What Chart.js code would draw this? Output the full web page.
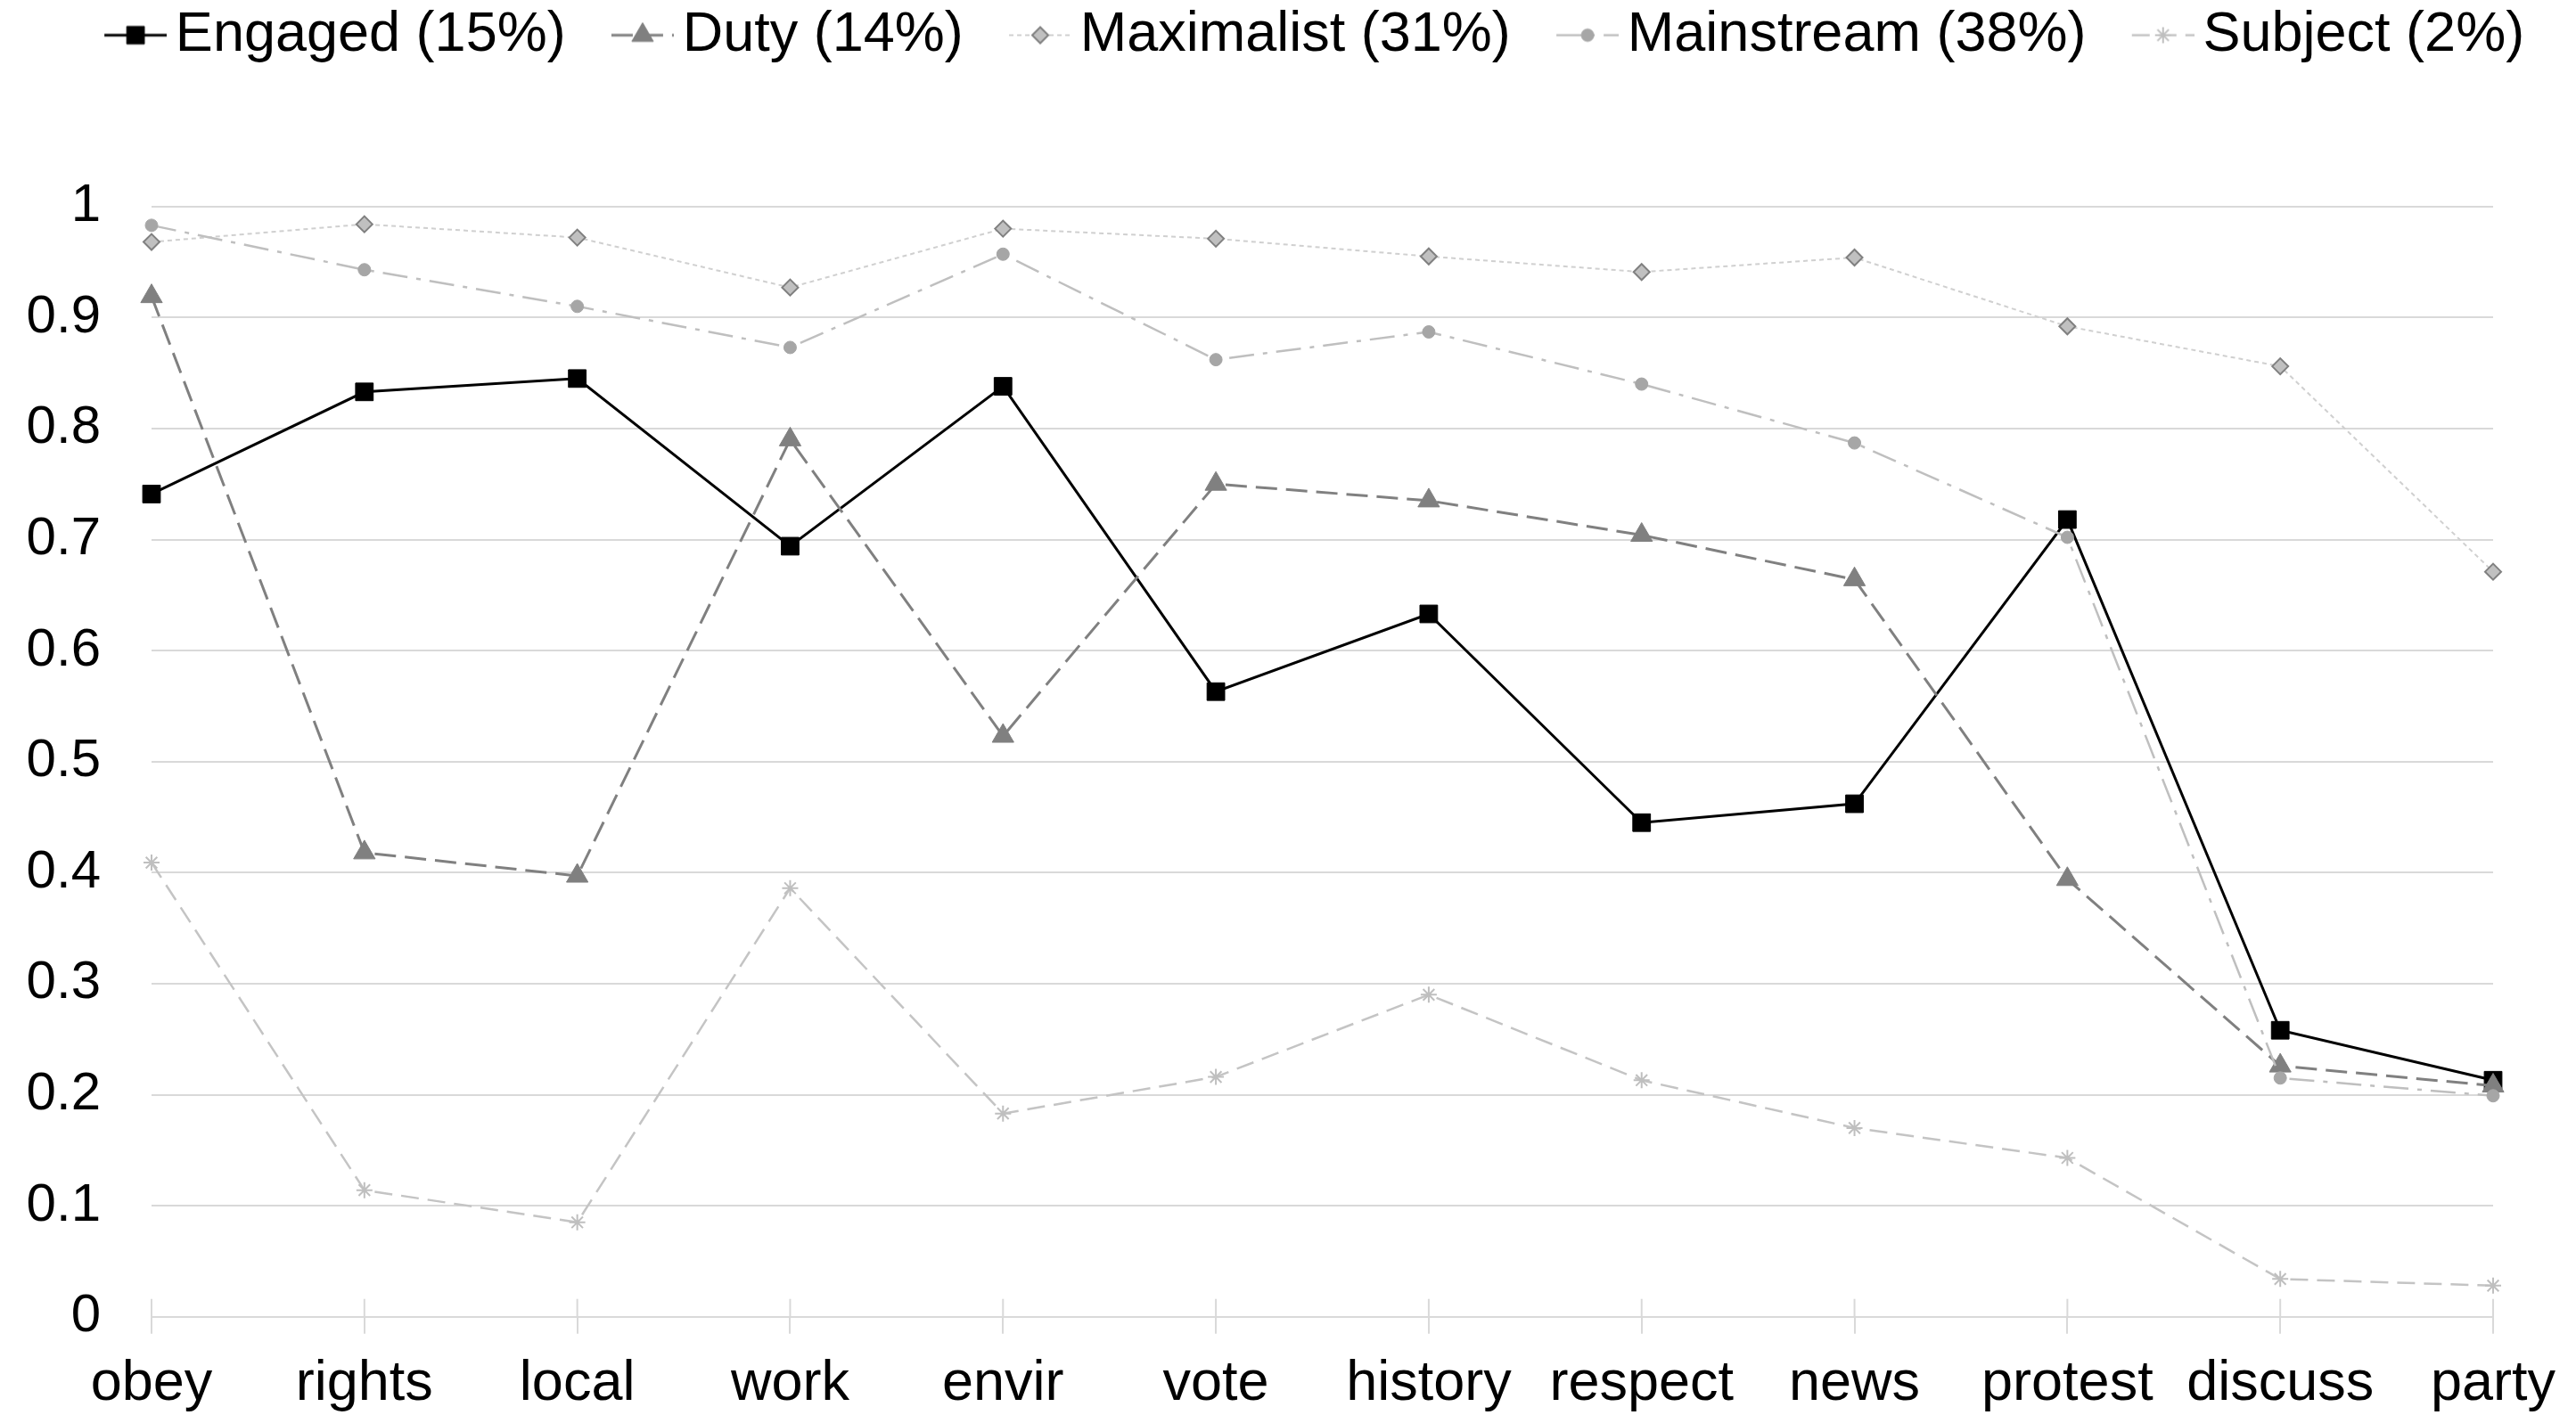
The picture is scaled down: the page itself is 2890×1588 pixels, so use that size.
<!DOCTYPE html>
<html>
<head>
<meta charset="utf-8">
<title>Civic norms by citizen type</title>
<script src="https://cdn.jsdelivr.net/npm/chart.js@4/dist/chart.umd.min.js"></script>
<style>
  html, body { margin: 0; padding: 0; background: #ffffff; }
  #wrap { width: 2890px; height: 1588px; }
  canvas { display: block; }
</style>
</head>
<body>
<div id="wrap"><canvas id="chart" width="2890" height="1588"></canvas></div>
<script>
// Items on the horizontal axis
const categories = ['obey', 'rights', 'local', 'work', 'envir', 'vote', 'history', 'respect', 'news', 'protest', 'discuss', 'party'];

// Share of each citizen type endorsing each norm
const engaged    = [0.741, 0.833, 0.845, 0.694, 0.838, 0.563, 0.633, 0.445, 0.462, 0.718, 0.258, 0.213];
const duty       = [0.919, 0.418, 0.397, 0.790, 0.523, 0.750, 0.735, 0.704, 0.664, 0.394, 0.226, 0.208];
const maximalist = [0.968, 0.984, 0.972, 0.927, 0.980, 0.971, 0.955, 0.941, 0.954, 0.892, 0.856, 0.671];
const mainstream = [0.983, 0.943, 0.910, 0.873, 0.957, 0.862, 0.887, 0.840, 0.787, 0.702, 0.215, 0.199];
const subject    = [0.409, 0.114, 0.085, 0.386, 0.183, 0.216, 0.290, 0.213, 0.170, 0.143, 0.034, 0.028];

const seriesLabels = ['Engaged (15%)', 'Duty (14%)', 'Maximalist (31%)', 'Mainstream (38%)', 'Subject (2%)'];
const yTickLabels = ['0', '0.1', '0.2', '0.3', '0.4', '0.5', '0.6', '0.7', '0.8', '0.9', '1'];

const GRID = '#d9d9d9';
Chart.defaults.font.family = '"Liberation Sans", Arial, Helvetica, sans-serif';
Chart.defaults.color = '#000000';

// Legend swatch: a short line in the series' dash style with its marker in the middle
function legendSwatch(ds) {
  const c = document.createElement('canvas');
  c.width = 133; c.height = 44;
  const g = c.getContext('2d');
  const cy = c.height / 2;
  g.strokeStyle = ds.borderColor;
  g.lineWidth = ds.borderWidth;
  g.setLineDash(ds.borderDash || []);
  g.beginPath();
  g.moveTo(63, cy);
  g.lineTo(133, cy);
  g.stroke();
  g.setLineDash([]);
  g.fillStyle = ds.pointBackgroundColor;
  g.strokeStyle = ds.pointBorderColor;
  g.lineWidth = ds.pointBorderWidth;
  const opts = { pointStyle: ds.pointStyle, radius: ds.pointRadius, rotation: 0, borderWidth: ds.pointBorderWidth };
  if (Chart.helpers && Chart.helpers.drawPoint) {
    Chart.helpers.drawPoint(g, opts, 98, cy);
  }
  return c;
}

// Tick marks that cross the category axis (upper half; lower half is drawn by the scale)
const crossTicks = {
  id: 'crossTicks',
  beforeDatasetsDraw(chart) {
    const xs = chart.scales.x;
    const { ctx, chartArea } = chart;
    ctx.save();
    ctx.strokeStyle = GRID;
    ctx.lineWidth = 2;
    xs.ticks.forEach((t, i) => {
      const px = xs.getPixelForTick(i);
      ctx.beginPath();
      ctx.moveTo(px, chartArea.bottom - 20);
      ctx.lineTo(px, chartArea.bottom);
      ctx.stroke();
    });
    ctx.restore();
  }
};

const datasets = [
  {
    label: seriesLabels[0], data: engaged, order: 4,
    borderColor: '#000000', borderWidth: 3, borderDash: [],
    pointStyle: 'rect', pointRadius: 14, pointBackgroundColor: '#000000',
    pointBorderColor: '#000000', pointBorderWidth: 1
  },
  {
    label: seriesLabels[1], data: duty, order: 3,
    borderColor: '#808080', borderWidth: 3, borderDash: [24, 10],
    pointStyle: 'triangle', pointRadius: 14, pointBackgroundColor: '#808080',
    pointBorderColor: '#808080', pointBorderWidth: 1
  },
  {
    label: seriesLabels[2], data: maximalist, order: 2,
    borderColor: '#d0d0d0', borderWidth: 2, borderDash: [5, 4],
    pointStyle: 'rectRot', pointRadius: 9, pointBackgroundColor: '#c0c0c0',
    pointBorderColor: '#808080', pointBorderWidth: 2
  },
  {
    label: seriesLabels[3], data: mainstream, order: 1,
    borderColor: '#bfbfbf', borderWidth: 2.5, borderDash: [28, 10, 5, 10],
    pointStyle: 'circle', pointRadius: 7, pointBackgroundColor: '#a6a6a6',
    pointBorderColor: '#a6a6a6', pointBorderWidth: 1
  },
  {
    label: seriesLabels[4], data: subject, order: 0,
    borderColor: '#c4c4c4', borderWidth: 2.5, borderDash: [20, 10],
    pointStyle: 'star', pointRadius: 9, pointBackgroundColor: '#bfbfbf',
    pointBorderColor: '#bfbfbf', pointBorderWidth: 2
  }
].map(d => Object.assign({ fill: false, tension: 0, clip: false, backgroundColor: d.pointBackgroundColor }, d));

new Chart(document.getElementById('chart'), {
  type: 'line',
  data: { labels: categories, datasets },
  options: {
    responsive: false,
    animation: false,
    devicePixelRatio: 1,
    layout: { padding: { top: -2, left: 18, right: 0, bottom: 0 } },
    plugins: {
      tooltip: { enabled: false },
      // empty title used as a spacer between the legend row and the plot
      title: {
        display: true,
        text: '',
        weight: 500,
        font: { size: 10, lineHeight: 1.2 },
        padding: { top: 0, bottom: 138.7 }
      },
      legend: {
        position: 'top',
        align: 'center',
        labels: {
          font: { size: 63 },
          color: '#000000',
          usePointStyle: true,
          pointStyleWidth: 89.5,
          boxHeight: 63,
          padding: 10,
          sort: (a, b) => a.datasetIndex - b.datasetIndex,
          generateLabels(chart) {
            const items = Chart.defaults.plugins.legend.labels.generateLabels(chart);
            items.forEach(it => { it.pointStyle = legendSwatch(chart.data.datasets[it.datasetIndex]); });
            return items;
          }
        }
      }
    },
    scales: {
      x: {
        offset: false,
        grid: { display: true, drawOnChartArea: false, drawTicks: true, tickLength: 19, color: GRID, lineWidth: 2 },
        border: { display: true, color: GRID, width: 2 },
        ticks: { font: { size: 63, lineHeight: 1.2 }, color: '#000000', padding: 19, maxRotation: 0, autoSkip: false },
        afterFit(scale) {
          scale.height = 110.3;
          scale.paddingRight = 93;
        }
      },
      y: {
        min: 0, max: 1,
        grid: { color: GRID, lineWidth: 2, drawTicks: false },
        border: { display: false },
        ticks: {
          stepSize: 0.1,
          font: { size: 60, lineHeight: 1.2 },
          color: '#000000',
          padding: 57,
          callback: (value, index) => yTickLabels[index]
        },
        afterFit(scale) {
          scale.width = 152;
        }
      }
    }
  },
  plugins: [crossTicks]
});
</script>
</body>
</html>
